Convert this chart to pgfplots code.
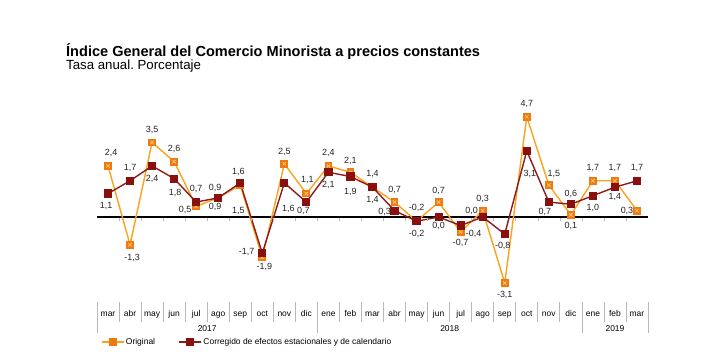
\documentclass[border=0pt]{standalone}
\usepackage{pgfplots}
\usepackage{pgfplotstable}
\pgfplotsset{compat=1.18}
\usepackage{fontspec}
\setmainfont{Liberation Sans}
\frenchspacing
\definecolor{origline}{HTML}{F9A21B}
\definecolor{origfill}{HTML}{EF7A12}
\definecolor{origx}{HTML}{FFC46A}
\definecolor{corr}{HTML}{8E1B1B}
\definecolor{corrfill}{HTML}{8A1010}
\definecolor{sepcol}{HTML}{B8B8B8}
\definecolor{labcol}{HTML}{222222}

\pgfplotstableread{
x y dx up lab
0 2.4 3 13 2,4
1 -1.3 2 -13 -1,3
2 3.5 0 13 3,5
3 2.6 0 12.6 2,6
4 0.5 -11 -4 0,5
5 0.9 -3 -9 0,9
6 1.5 -2 -26 1,5
7 -1.9 2 -9 -1,9
8 2.5 0 12 2,5
9 1.1 1 13.6 1,1
10 2.4 0 12.6 2,4
11 2.1 0 11.6 2,1
12 1.4 0 13 1,4
13 0.7 0 12 0,7
14 -0.2 0 13 -0,2
15 0.7 0 11 0,7
16 -0.7 0 -11.5 -0,7
17 0.3 0 12 0,3
18 -3.1 0 -12 -3,1
19 4.7 0 13 4,7
20 1.5 5 11 1,5
21 0.1 0 -11 0,1
22 1.7 0 12.5 1,7
23 1.7 0 12.5 1,7
24 0.3 -10 0 0,3
}\orig

\pgfplotstableread{
x y dx up lab
0 1.1 -2 -12.4 1,1
1 1.7 0 12.5 1,7
2 2.4 0 -13 2,4
3 1.8 1 -14 1,8
4 0.7 0 13 0,7
5 0.9 -3 10 0,9
6 1.6 -2 11 1,6
7 -1.7 -15.6 1 -1,7
8 1.6 4 -26 1,6
9 0.7 -3 -9 0,7
10 2.1 0 -12.7 2,1
11 1.9 0 -15 1,9
12 1.4 0 -13 1,4
13 0.3 -10 -1 0,3
14 -0.2 0 -13 -0,2
15 0.0 0 -9 0,0
16 -0.4 13 -8 -0,4
17 0.0 -11 6 0,0
18 -0.8 -2 -12 -0,8
19 3.1 3 -23 3,1
20 0.7 -4 -10 0,7
21 0.6 0 10 0,6
22 1.0 0 -12.6 1,0
23 1.4 0 -10 1,4
24 1.7 0 12.5 1,7
}\corrtab

\begin{document}
\begin{tikzpicture}
\useasboundingbox (0,0) rectangle (720bp,357bp);
% titles
\node[anchor=base west, inner sep=0pt, font=\fontsize{14.6}{16}\selectfont\bfseries] at (66bp,300.3bp) {Índice General del Comercio Minorista a precios constantes};
\node[anchor=base west, inner sep=0pt, font=\fontsize{13.3}{15}\selectfont] at (66bp,287bp) {Tasa anual. Porcentaje};

\begin{axis}[
  at={(97bp,54.8bp)}, anchor=south west,
  scale only axis, width=551bp, height=191.7bp,
  xmin=-0.5, xmax=24.5, ymin=-4, ymax=5,
  hide axis, clip=false,
  legend columns=2,
  legend style={at={(0.0073,-0.2076)}, anchor=west, draw=none, fill=none,
    inner sep=0pt, outer sep=0pt,
    font=\fontsize{8.5}{10}\selectfont,
    nodes={inner sep=1.5bp},
    /tikz/every even column/.append style={column sep=22bp}},
  legend image code/.code={\draw[mark repeat=2,mark phase=2,#1] plot coordinates {(0bp,0bp) (11bp,0bp) (22bp,0bp)};},
  every node near coord/.append style={font=\fontsize{9}{10}\selectfont, text=labcol},
]
\addplot[black, line width=1.3bp, forget plot] coordinates {(-0.5,0) (24.5,0)};

\addplot[origline, line width=1.4bp, mark=square*, mark size=3.2bp,
  mark options={fill=origfill, draw=origfill, solid},
  point meta=explicit symbolic,
  visualization depends on={\thisrow{dx} \as \mydx},
  visualization depends on={\thisrow{up} \as \myup},
  nodes near coords,
  nodes near coords style={anchor=center, xshift=\mydx bp, yshift=\myup bp},
] table[x=x, y=y, meta=lab] {\orig};
\addlegendentry{Original}
\addplot[only marks, mark=x, mark size=2.4bp, mark options={draw=origx, line width=0.8bp}, forget plot]
  table[x=x, y=y] {\orig};

\addplot[corr, line width=1.4bp, mark=square*, mark size=3.4bp,
  mark options={fill=corrfill, draw=corrfill, solid},
  point meta=explicit symbolic,
  visualization depends on={\thisrow{dx} \as \mydx},
  visualization depends on={\thisrow{up} \as \myup},
  nodes near coords,
  nodes near coords style={anchor=center, xshift=\mydx bp, yshift=\myup bp},
] table[x=x, y=y, meta=lab] {\corrtab};
\addlegendentry{Corregido de efectos estacionales y de calendario}
\end{axis}

\begin{scope}[yshift=357bp, x=1bp, y=-1bp]
  % ticks on zero line
  \foreach \k in {1,...,24} {
    \draw[sepcol, line width=0.6bp] ({97+22.04*\k},217.6) -- ({97+22.04*\k},220.6);
  }
  % month separators
  \foreach \k in {1,...,24} {
    \draw[sepcol, line width=0.7bp] ({97+22.04*\k},302) -- ({97+22.04*\k},321.7);
  }
  \foreach \k in {0,10,22,25} {
    \draw[sepcol, line width=0.7bp] ({97+22.04*\k},302) -- ({97+22.04*\k},333.3);
  }
  \foreach \m [count=\i from 0] in {mar,abr,may,jun,jul,ago,sep,oct,nov,dic,ene,feb,mar,abr,may,jun,jul,ago,sep,oct,nov,dic,ene,feb,mar} {
    \node[anchor=base, inner sep=0pt, font=\fontsize{8.5}{10}\selectfont] at ({108.02+22.04*\i},316.3) {\m};
  }
  \node[anchor=base, inner sep=0pt, font=\fontsize{8.5}{10}\selectfont] at (207.2,331.5) {2017};
  \node[anchor=base, inner sep=0pt, font=\fontsize{8.5}{10}\selectfont] at (449.7,331.5) {2018};
  \node[anchor=base, inner sep=0pt, font=\fontsize{8.5}{10}\selectfont] at (615,331.5) {2019};
\end{scope}
\end{tikzpicture}
\end{document}
